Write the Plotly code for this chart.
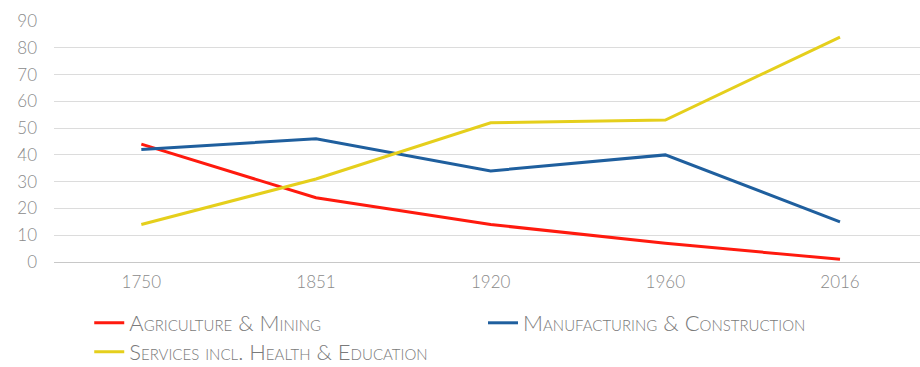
import plotly.graph_objects as go

years = ["1750", "1851", "1920", "1960", "2016"]
agriculture = [44, 24, 14, 7, 1]
manufacturing = [42, 46, 34, 40, 15]
services = [14, 31, 52, 53, 84]

y_ticks = [0, 10, 20, 30, 40, 50, 60, 70, 80, 90]

series = [
    ("Agriculture & Mining", agriculture, "#ff1a0e", "legend2"),
    ("Manufacturing & Construction", manufacturing, "#1f5f9e", "legend3"),
    ("Services incl. Health & Education", services, "#e5cf1c", "legend4"),
]

fig = go.Figure()
for name, vals, color, leg in series:
    fig.add_trace(go.Scatter(
        x=years, y=vals, name=name, mode="lines",
        line=dict(color=color, width=3),
        legend=leg,
    ))

tick_font = dict(family="Lato", size=17, color="#8a8a8a", weight=300)
legend_font = dict(family="Lato", size=22, color="#7a7a7a", variant="small-caps", weight=300)

def legend_box(x, y):
    return dict(
        orientation="h", xref="container", yref="container",
        x=x, y=y, xanchor="left", yanchor="middle",
        font=legend_font, itemwidth=30, bgcolor="rgba(0,0,0,0)",
        borderwidth=0,
    )

fig.update_layout(
    width=920, height=367,
    margin=dict(l=54, r=0, t=21, b=105),
    paper_bgcolor="white", plot_bgcolor="white",
    showlegend=True,
    xaxis=dict(
        type="category", range=[-0.5, 4.458],
        showgrid=False, zeroline=False, showline=False,
        ticks="", tickfont=tick_font, ticklabelstandoff=8,
    ),
    yaxis=dict(
        range=[0, 90], tickvals=y_ticks,
        showgrid=True, gridcolor="#dcdcdc", gridwidth=1,
        zeroline=True, zerolinecolor="#c8c8c8", zerolinewidth=1,
        showline=False, ticks="", tickfont=tick_font, ticklabelstandoff=16,
    ),
    legend=dict(visible=False),
    legend2=legend_box(0.097, 1 - 323 / 367),
    legend3=legend_box(0.525, 1 - 323 / 367),
    legend4=legend_box(0.097, 1 - 352 / 367),
)

fig.write_html("out.html")
